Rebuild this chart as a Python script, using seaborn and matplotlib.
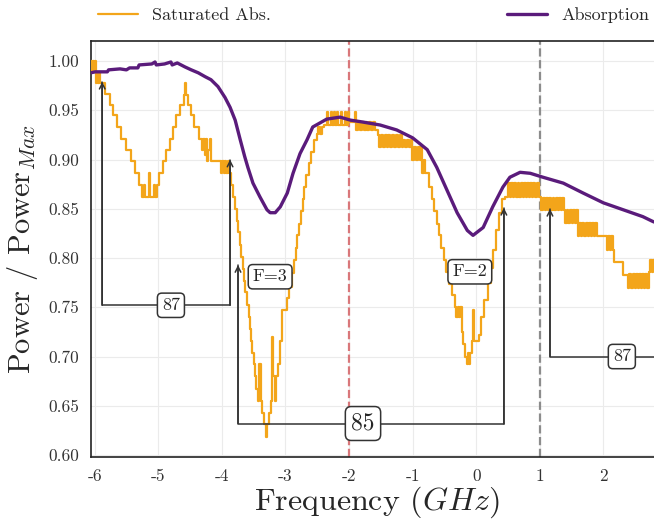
import matplotlib
matplotlib.use("Agg")
import matplotlib.pyplot as plt
import numpy as np
import pandas as pd
import seaborn as sns

# ---------------- data ----------------
sat_abs = [
    (-6.06, 1.000), (-6.045, 0.989), (-6.03, 1.000), (-6.015, 0.989), (-6.00, 1.000),
    (-5.985, 0.978), (-5.97, 0.989), (-5.95, 0.978), (-5.93, 0.989), (-5.91, 0.978),
    (-5.84, 0.967), (-5.76, 0.955), (-5.71, 0.945), (-5.64, 0.933), (-5.58, 0.921),
    (-5.51, 0.910), (-5.43, 0.898), (-5.36, 0.886), (-5.30, 0.874),
    (-5.25, 0.862), (-5.22, 0.874), (-5.20, 0.862), (-5.15, 0.886), (-5.13, 0.862),
    (-5.07, 0.874), (-5.05, 0.862), (-5.02, 0.874),
    (-4.98, 0.886), (-4.92, 0.898), (-4.87, 0.910), (-4.82, 0.921), (-4.77, 0.933),
    (-4.72, 0.945), (-4.66, 0.955), (-4.60, 0.965), (-4.575, 0.978), (-4.56, 0.965),
    (-4.53, 0.955), (-4.48, 0.945), (-4.43, 0.933), (-4.36, 0.921), (-4.31, 0.910),
    (-4.29, 0.921), (-4.27, 0.905), (-4.25, 0.921), (-4.23, 0.898), (-4.21, 0.910),
    (-4.19, 0.921), (-4.17, 0.898),
    (-4.02, 0.886), (-3.99, 0.898), (-3.97, 0.886), (-3.95, 0.898), (-3.93, 0.886),
    (-3.91, 0.898), (-3.89, 0.886),
    (-3.85, 0.874), (-3.82, 0.862), (-3.79, 0.850), (-3.76, 0.838), (-3.74, 0.826),
    (-3.72, 0.813), (-3.70, 0.801), (-3.67, 0.789), (-3.65, 0.777), (-3.63, 0.765),
    (-3.61, 0.752), (-3.58, 0.740), (-3.56, 0.728), (-3.54, 0.716), (-3.52, 0.704),
    (-3.50, 0.692), (-3.48, 0.680), (-3.46, 0.667), (-3.43, 0.655),
    (-3.41, 0.692), (-3.39, 0.655), (-3.37, 0.643), (-3.34, 0.631), (-3.31, 0.618),
    (-3.29, 0.631), (-3.26, 0.643), (-3.23, 0.655), (-3.21, 0.720), (-3.19, 0.680),
    (-3.17, 0.655), (-3.14, 0.680), (-3.11, 0.692), (-3.08, 0.716), (-3.05, 0.747),
    (-2.98, 0.759), (-2.94, 0.771), (-2.90, 0.785), (-2.87, 0.798), (-2.84, 0.810),
    (-2.81, 0.823), (-2.79, 0.835), (-2.76, 0.848), (-2.73, 0.860), (-2.70, 0.872),
    (-2.67, 0.884), (-2.63, 0.896), (-2.59, 0.908), (-2.55, 0.920),
    (-2.51, 0.926), (-2.48, 0.933), (-2.45, 0.926), (-2.42, 0.933),
    (-2.40, 0.935), (-2.35, 0.948), (-2.33, 0.935), (-2.29, 0.948), (-2.27, 0.935),
    (-2.24, 0.948), (-2.22, 0.935), (-2.19, 0.948), (-2.17, 0.935), (-2.13, 0.948),
    (-2.11, 0.935), (-2.07, 0.948), (-2.05, 0.935), (-2.02, 0.948), (-2.00, 0.938),
    (-1.91, 0.948), (-1.89, 0.930), (-1.86, 0.938), (-1.83, 0.930), (-1.80, 0.938),
    (-1.77, 0.930), (-1.74, 0.938), (-1.71, 0.930), (-1.68, 0.938), (-1.65, 0.930),
    (-1.62, 0.938), (-1.59, 0.930),
    (-1.55, 0.925), (-1.53, 0.913), (-1.50, 0.925), (-1.47, 0.913), (-1.44, 0.925),
    (-1.41, 0.913), (-1.38, 0.925), (-1.35, 0.913), (-1.32, 0.925), (-1.29, 0.913),
    (-1.26, 0.925), (-1.23, 0.913), (-1.20, 0.925), (-1.17, 0.913),
    (-1.15, 0.920), (-1.12, 0.913), (-1.09, 0.920), (-1.06, 0.913), (-1.03, 0.920),
    (-1.01, 0.900), (-0.98, 0.913), (-0.95, 0.900), (-0.92, 0.913), (-0.89, 0.900),
    (-0.87, 0.913),
    (-0.85, 0.886), (-0.82, 0.900), (-0.80, 0.886), (-0.77, 0.886),
    (-0.74, 0.872), (-0.70, 0.860), (-0.66, 0.848), (-0.62, 0.835), (-0.59, 0.823),
    (-0.55, 0.810), (-0.51, 0.798), (-0.47, 0.786), (-0.43, 0.774), (-0.38, 0.762),
    (-0.33, 0.750),
    (-0.31, 0.740), (-0.29, 0.750), (-0.27, 0.740), (-0.25, 0.750), (-0.23, 0.725),
    (-0.20, 0.713), (-0.17, 0.700), (-0.15, 0.692), (-0.13, 0.704), (-0.11, 0.692),
    (-0.09, 0.704), (-0.07, 0.716), (-0.05, 0.747), (-0.03, 0.716), (0.01, 0.716),
    (0.04, 0.722),
    (0.08, 0.740), (0.13, 0.757), (0.18, 0.775), (0.23, 0.790), (0.27, 0.808),
    (0.31, 0.828), (0.36, 0.846), (0.41, 0.860), (0.46, 0.862),
    (0.50, 0.876), (0.53, 0.862), (0.55, 0.876), (0.58, 0.862), (0.60, 0.876),
    (0.63, 0.862), (0.65, 0.876), (0.68, 0.862), (0.70, 0.876), (0.73, 0.862),
    (0.75, 0.876), (0.78, 0.862), (0.80, 0.876), (0.83, 0.862), (0.85, 0.876),
    (0.88, 0.862), (0.90, 0.876), (0.93, 0.862), (0.95, 0.876), (0.98, 0.862),
    (1.02, 0.849), (1.05, 0.861), (1.08, 0.849), (1.10, 0.861), (1.13, 0.849),
    (1.15, 0.861), (1.18, 0.849), (1.20, 0.861), (1.23, 0.849), (1.25, 0.861),
    (1.28, 0.849), (1.30, 0.861), (1.33, 0.849), (1.35, 0.861), (1.38, 0.849),
    (1.40, 0.836), (1.42, 0.849), (1.45, 0.836), (1.47, 0.849), (1.50, 0.836),
    (1.52, 0.849), (1.55, 0.836), (1.57, 0.849),
    (1.60, 0.822), (1.62, 0.836), (1.65, 0.822), (1.67, 0.836), (1.70, 0.822),
    (1.72, 0.836), (1.75, 0.822), (1.77, 0.836), (1.80, 0.822), (1.82, 0.836),
    (1.85, 0.822), (1.87, 0.836), (1.90, 0.822),
    (2.05, 0.808), (2.07, 0.822), (2.10, 0.808), (2.12, 0.822), (2.15, 0.808),
    (2.17, 0.796),
    (2.31, 0.783), (2.39, 0.770), (2.41, 0.784), (2.44, 0.770), (2.46, 0.784),
    (2.49, 0.770), (2.51, 0.784), (2.54, 0.770), (2.56, 0.784), (2.59, 0.770),
    (2.61, 0.784), (2.64, 0.770), (2.66, 0.784), (2.69, 0.770),
    (2.71, 0.786), (2.73, 0.798), (2.76, 0.786), (2.78, 0.798), (2.81, 0.786),
    (2.84, 0.798), (2.95, 0.798),
]

absorption = [
    (-6.06, 0.988), (-5.99, 0.989), (-5.80, 0.989), (-5.78, 0.991), (-5.60, 0.992),
    (-5.50, 0.991), (-5.45, 0.993), (-5.32, 0.993), (-5.30, 0.996), (-5.10, 0.997),
    (-5.05, 0.999), (-5.03, 0.996), (-4.90, 0.997), (-4.80, 0.999), (-4.78, 0.996),
    (-4.70, 0.998), (-4.64, 0.996), (-4.58, 0.994), (-4.48, 0.991), (-4.37, 0.988),
    (-4.26, 0.984), (-4.17, 0.981), (-4.06, 0.974), (-3.95, 0.963), (-3.87, 0.953),
    (-3.79, 0.940), (-3.71, 0.920), (-3.64, 0.903), (-3.59, 0.892), (-3.51, 0.876),
    (-3.40, 0.862), (-3.29, 0.849), (-3.24, 0.846), (-3.16, 0.846), (-3.08, 0.852),
    (-2.97, 0.866), (-2.88, 0.886), (-2.77, 0.906), (-2.66, 0.920), (-2.57, 0.933),
    (-2.35, 0.941), (-2.14, 0.943), (-1.98, 0.940), (-1.78, 0.938), (-1.51, 0.935),
    (-1.25, 0.930), (-1.00, 0.922), (-0.77, 0.910), (-0.62, 0.892), (-0.46, 0.869),
    (-0.30, 0.846), (-0.14, 0.828), (-0.05, 0.823), (0.11, 0.831), (0.26, 0.852),
    (0.42, 0.872), (0.53, 0.882), (0.69, 0.887), (0.85, 0.886), (1.05, 0.882),
    (1.37, 0.876), (1.68, 0.866), (2.00, 0.856), (2.31, 0.849), (2.62, 0.842),
    (2.78, 0.837), (2.95, 0.833),
]

series_labels = ["Saturated Abs.", "Absorption"]
series_colors = ["#F3A51A", "#5A1B7B"]

ref_lines = [-2.0, 1.0]
ref_colors = ["#D9777A", "#8C8C8C"]

# brackets: (x_left, tip_left, x_right, tip_right, y_bar, label, label_x, fontsize)
brackets = [
    (-5.88, 0.979, -3.87, 0.900, 0.752, "87", -4.80, 13),
    (-3.745, 0.793, 0.435, 0.851, 0.632, "85", -1.78, 17),
    (1.16, 0.850, 3.40, None, 0.700, "87", 2.29, 13),
]
level_labels = [("F=3", -3.24, 0.781), ("F=2", -0.10, 0.786)]

xticks = [-6, -5, -4, -3, -2, -1, 0, 1, 2]
yticks = [0.60, 0.65, 0.70, 0.75, 0.80, 0.85, 0.90, 0.95, 1.00]

# ---------------- style ----------------
sns.set_style("whitegrid", {"axes.edgecolor": "#222222", "grid.color": "#ebebeb"})
plt.rcParams["font.family"] = ["cmr10", "DejaVu Serif"]
plt.rcParams["mathtext.fontset"] = "cm"
plt.rcParams["axes.unicode_minus"] = False
plt.rcParams["axes.formatter.use_mathtext"] = True

fig = plt.figure(figsize=(6.54, 5.2), dpi=100)
ax_left_px, ax_right_px = 91, 663
ax = fig.add_axes([ax_left_px / 654, 63 / 520, (ax_right_px - ax_left_px) / 654, 416 / 520])

sat_df = pd.DataFrame(sat_abs, columns=["freq", "power"])
abs_df = pd.DataFrame(absorption, columns=["freq", "power"])

sns.lineplot(data=sat_df, x="freq", y="power", ax=ax, estimator=None, sort=False,
             color=series_colors[0], lw=1.6, drawstyle="steps-post",
             label=series_labels[0], zorder=3)
sns.lineplot(data=abs_df, x="freq", y="power", ax=ax, estimator=None, sort=False,
             color=series_colors[1], lw=2.4, label=series_labels[1], zorder=4)

for xv, c in zip(ref_lines, ref_colors):
    ax.axvline(xv, color=c, ls="--", lw=1.6, zorder=2)

line_c = "#333333"
box = dict(boxstyle="round,pad=0.25", fc="white", ec=line_c, lw=1.1)
for xl, tl, xr, tr, yb, lab, lx, fs in brackets:
    ax.plot([xl, xl, xr], [tl, yb, yb], color=line_c, lw=1.1, zorder=5)
    ax.annotate("", xy=(xl, tl), xytext=(xl, yb),
                arrowprops=dict(arrowstyle="->", color=line_c, lw=1.1, shrinkA=0, shrinkB=0),
                zorder=5)
    if tr is not None:
        ax.plot([xr, xr], [yb, tr], color=line_c, lw=1.1, zorder=5)
        ax.annotate("", xy=(xr, tr), xytext=(xr, yb),
                    arrowprops=dict(arrowstyle="->", color=line_c, lw=1.1, shrinkA=0, shrinkB=0),
                    zorder=5)
    ax.text(lx, yb, lab, ha="center", va="center", fontsize=fs, bbox=box, zorder=6)

for lab, lx, ly in level_labels:
    ax.text(lx, ly, lab, ha="center", va="center", fontsize=13, bbox=box, zorder=6)

px_per_unit = 63.6
x0 = -6 - (94.6 - ax_left_px) / px_per_unit
ax.set_xlim(x0, x0 + (ax_right_px - ax_left_px) / px_per_unit)
ax.set_ylim(0.598, 1.0203)
ax.set_xticks(xticks)
ax.set_xticklabels([str(t) for t in xticks])
ax.set_yticks(yticks)
ax.set_yticklabels([f"{t:.2f}" for t in yticks])
ax.tick_params(axis="both", labelsize=12.5, colors="#333333", pad=5)
ax.set_xlabel(r"Frequency ($GHz$)", fontsize=23, labelpad=0)
ax.set_ylabel(r"Power / Power$_{Max}$", fontsize=22, labelpad=6)
for s in ax.spines.values():
    s.set_linewidth(1.2)

ax.legend(loc="center", bbox_to_anchor=(0.125, 0.946, 0.893, 0.05),
          bbox_transform=fig.transFigure, mode="expand", ncol=2, frameon=False,
          fontsize=13, handlelength=2.2)

fig.savefig("out.png", dpi=100)
